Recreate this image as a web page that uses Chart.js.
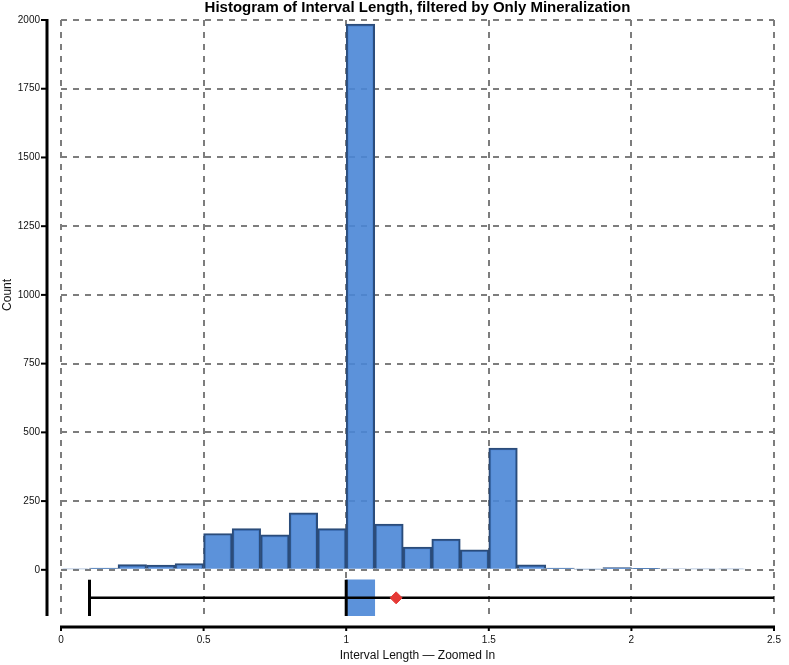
<!DOCTYPE html>
<html lang="en">
<head>
  <meta charset="UTF-8" />
  <title>Histogram of Interval Length</title>
  <script src="https://cdn.jsdelivr.net/npm/chart.js"></script>
  <style>
    html, body {
      margin: 0;
      padding: 0;
      background: #fff;
    }
    #wrap {
      width: 789px;
      height: 665px;
    }
  </style>
</head>
<body>
  <div id="wrap"><canvas id="grafico"></canvas></div>

  <script>
    // histogram bins (left edge of each 0.1 bin) and counts
    const binStarts = [0, 0.1, 0.2, 0.3, 0.4, 0.5, 0.6, 0.7, 0.8, 0.9, 1.0, 1.1,
                       1.2, 1.3, 1.4, 1.5, 1.6, 1.7, 1.8, 1.9, 2.0, 2.1, 2.2, 2.3];
    const counts = [3, 6, 19, 17, 23, 132, 150, 127, 207, 150, 1985, 166,
                    83, 112, 73, 443, 18, 6, 2, 8, 5, 4, 3, 3];
    const binWidth = 0.1;

    // box plot summary under the histogram
    const boxMin = 0.1;
    const boxQ1 = 1.0;
    const boxMedian = 1.0;
    const boxQ3 = 1.1;
    const boxMax = 2.5;
    const boxMean = 1.175;

    const xTicks = [0, 0.5, 1, 1.5, 2, 2.5];
    const yTicks = [0, 250, 500, 750, 1000, 1250, 1500, 1750, 2000];

    const titulo = "Histogram of Interval Length, filtered by Only Mineralization";
    const tituloY = "Count";
    const fonte = "'Liberation Sans', Arial, sans-serif";

    // vertical band for the box plot row (below zero)
    const yMin = -168;
    const boxTop = -36;
    const boxMid = -102;

    const histData = binStarts.map((s, i) => ({ x: s + binWidth / 2, y: counts[i] }));

    // eixos desenhados fora da area do grafico, como no original
    const eixos = {
      id: "eixos",
      afterDraw(chart) {
        const { ctx, chartArea, scales } = chart;
        const x = scales.x, y = scales.y;
        ctx.save();
        ctx.strokeStyle = "#000";
        ctx.lineWidth = 3;
        // eixo y
        const ax = chartArea.left - 14;
        ctx.beginPath();
        ctx.moveTo(ax, y.getPixelForValue(yTicks[yTicks.length - 1]) - 1);
        ctx.lineTo(ax, chartArea.bottom);
        ctx.stroke();
        ctx.lineWidth = 2;
        yTicks.forEach(v => {
          const py = y.getPixelForValue(v);
          ctx.beginPath();
          ctx.moveTo(ax - 6, py);
          ctx.lineTo(ax, py);
          ctx.stroke();
        });
        // eixo x
        const ay = chartArea.bottom + 11;
        ctx.lineWidth = 3;
        ctx.beginPath();
        ctx.moveTo(x.getPixelForValue(xTicks[0]) - 1, ay);
        ctx.lineTo(x.getPixelForValue(xTicks[xTicks.length - 1]) + 1, ay);
        ctx.stroke();
        ctx.lineWidth = 2;
        xTicks.forEach(v => {
          const px = x.getPixelForValue(v);
          ctx.beginPath();
          ctx.moveTo(px, ay);
          ctx.lineTo(px, ay + 4);
          ctx.stroke();
        });
        // titulo centrado na area do grafico
        ctx.fillStyle = "#000";
        ctx.font = "bold 15px " + fonte;
        ctx.textAlign = "center";
        ctx.textBaseline = "middle";
        ctx.fillText(titulo, (chartArea.left + chartArea.right) / 2, 8);
        // titulo do eixo y, centrado entre 0 e o topo
        const cy = (y.getPixelForValue(yTicks[0]) + y.getPixelForValue(yTicks[yTicks.length - 1])) / 2;
        ctx.translate(8, cy);
        ctx.rotate(-Math.PI / 2);
        ctx.fillStyle = "#111";
        ctx.font = "12px " + fonte;
        ctx.fillText(tituloY, 0, 0);
        ctx.restore();
      }
    };

    new Chart(document.getElementById("grafico"), {
      type: "bar",
      data: {
        datasets: [
          {
            type: "scatter",
            label: "Mean",
            data: [{ x: boxMean, y: boxMid }],
            pointStyle: "rectRot",
            pointRadius: 6,
            backgroundColor: "#e53935",
            borderColor: "#e53935",
            order: 0
          },
          {
            type: "line",
            label: "Median",
            data: [{ x: boxMedian, y: yMin }, { x: boxMedian, y: boxTop }],
            borderColor: "#000",
            borderWidth: 3,
            pointRadius: 0,
            order: 1
          },
          {
            type: "line",
            label: "Min",
            data: [{ x: boxMin, y: yMin }, { x: boxMin, y: boxTop }],
            borderColor: "#000",
            borderWidth: 3,
            pointRadius: 0,
            order: 2
          },
          {
            type: "line",
            label: "Whisker",
            data: [{ x: boxMin, y: boxMid }, { x: boxMax, y: boxMid }],
            borderColor: "#000",
            borderWidth: 2.5,
            pointRadius: 0,
            order: 3
          },
          {
            label: "IQR",
            data: [{ x: (boxQ1 + boxQ3) / 2, y: [yMin, boxTop] }],
            backgroundColor: "rgb(92,146,218)",
            borderWidth: 0,
            grouped: false,
            barPercentage: 1,
            categoryPercentage: 1,
            order: 4
          },
          {
            label: "Count",
            data: histData,
            backgroundColor: "rgba(74,134,214,0.9)",
            borderColor: "#2b4c7a",
            borderWidth: 2,
            grouped: false,
            barPercentage: 1,
            categoryPercentage: 1,
            order: 5
          }
        ]
      },
      options: {
        responsive: true,
        maintainAspectRatio: false,
        animation: false,
        layout: {
          padding: { top: 20, right: 15, left: 0, bottom: 0 }
        },
        plugins: {
          legend: { display: false },
          tooltip: { enabled: false },
          title: { display: false }
        },
        scales: {
          x: {
            type: "linear",
            min: 0,
            max: 2.5,
            offset: false,
            afterFit: s => { s.height = 49; },
            afterBuildTicks: s => { s.ticks = xTicks.map(v => ({ value: v })); },
            grid: {
              color: "#7d7d7d", lineWidth: 2, offset: false,
              drawTicks: true, tickLength: 15, tickColor: "rgba(0,0,0,0)"
            },
            border: { display: false, dash: [6, 6] },
            ticks: {
              padding: 3,
              color: "#111",
              font: { family: fonte, size: 10 },
              callback: v => String(v)
            },
            title: {
              display: true,
              text: "Interval Length — Zoomed In",
              color: "#111",
              font: { family: fonte, size: 12 },
              padding: { top: 0, bottom: 2 }
            }
          },
          y: {
            min: yMin,
            max: 2000,
            afterFit: s => { s.width = 61; },
            afterBuildTicks: s => { s.ticks = yTicks.map(v => ({ value: v })); },
            grid: {
              color: "#7d7d7d", lineWidth: 2,
              drawTicks: true, tickLength: 18, tickColor: "rgba(0,0,0,0)"
            },
            border: { display: false, dash: [6, 6] },
            ticks: {
              padding: 3,
              color: "#111",
              font: { family: fonte, size: 10 },
              callback: v => String(v)
            },
            title: { display: false }
          }
        }
      },
      plugins: [eixos]
    });
  </script>
</body>
</html>
